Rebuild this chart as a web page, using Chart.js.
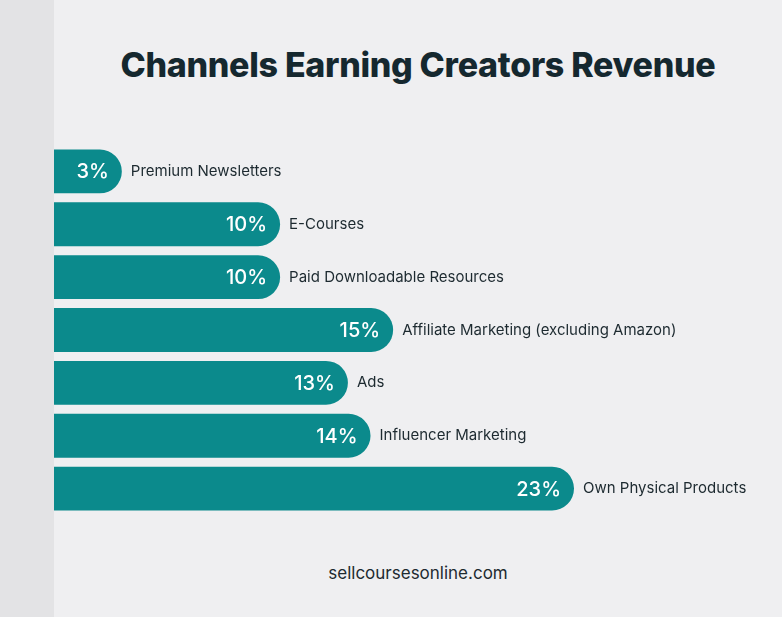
<!DOCTYPE html>
<html>
<head>
<meta charset="utf-8">
<script src="https://cdn.jsdelivr.net/npm/chart.js@4"></script>
<style>
  html, body { margin:0; padding:0; }
  body { width:782px; height:617px; background:#efeff1; position:relative; overflow:hidden; font-family:Inter, "Open Sans", sans-serif; }
  #strip { position:absolute; left:0; top:0; width:54px; height:617px; background:#e3e3e5; }
  #title { position:absolute; left:54px; right:0; top:44px; text-align:center; font-size:34px; font-weight:800; color:#15282f; letter-spacing:-0.3px; }
  #footer { position:absolute; left:54px; right:0; top:563px; text-align:center; font-size:17px; color:#1d2a30; }
  #wrap { position:absolute; left:54px; top:145px; width:728px; height:370px; }
</style>
</head>
<body>
<div id="strip"></div>
<div id="title">Channels Earning Creators Revenue</div>
<div id="wrap"><canvas id="chart"></canvas></div>
<div id="footer">sellcoursesonline.com</div>
<script>
// -----------------------------------------
// DATA
// -----------------------------------------
const categories = [
  'Premium Newsletters',
  'E-Courses',
  'Paid Downloadable Resources',
  'Affiliate Marketing (excluding Amazon)',
  'Ads',
  'Influencer Marketing',
  'Own Physical Products'
];
const shares = [3, 10, 10, 15, 13, 14, 23];

const BAR_COLOR = '#0b8a8c';

// -----------------------------------------
// Labels: value inside the bar end, category to the right
// -----------------------------------------
const barLabels = {
  id: 'barLabels',
  afterDatasetsDraw(chart) {
    const ctx = chart.ctx;
    const meta = chart.getDatasetMeta(0);
    ctx.save();
    ctx.textBaseline = 'middle';
    meta.data.forEach((bar, i) => {
      ctx.font = '500 20px Inter, "Open Sans", sans-serif';
      ctx.fillStyle = '#ffffff';
      ctx.textAlign = 'right';
      ctx.fillText(shares[i] + '%', bar.x - 13, bar.y + 1);
      ctx.font = '15px Inter, "Open Sans", sans-serif';
      ctx.fillStyle = '#1d2a30';
      ctx.textAlign = 'left';
      ctx.fillText(categories[i], bar.x + 9, bar.y);
    });
    ctx.restore();
  }
};

new Chart(document.getElementById('chart'), {
  type: 'bar',
  data: {
    labels: categories,
    datasets: [{
      data: shares,
      backgroundColor: BAR_COLOR,
      borderRadius: { topRight: 22, bottomRight: 22, topLeft: 0, bottomLeft: 0 },
      borderSkipped: false,
      barPercentage: 0.83,
      categoryPercentage: 1
    }]
  },
  options: {
    indexAxis: 'y',
    responsive: true,
    maintainAspectRatio: false,
    animation: false,
    layout: { padding: 0 },
    plugins: { legend: { display: false }, tooltip: { enabled: false } },
    scales: {
      x: { display: false, min: 0, max: 32.2 },
      y: { display: false }
    }
  },
  plugins: [barLabels]
});
</script>
</body>
</html>
